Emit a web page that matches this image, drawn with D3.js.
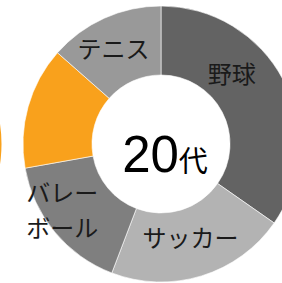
<!DOCTYPE html>
<html>
<head>
<meta charset="utf-8">
<script src="https://cdn.jsdelivr.net/npm/d3@7"></script>
<style>
  body { margin: 0; background: #fff; }
  svg { display: block; }
</style>
</head>
<body>
<script>
// slices, clockwise from 12 o'clock
var sports = ["野球", "サッカー", "バレーボール", "", "テニス"];
var shares = [34.7, 21.1, 16.4, 14.3, 13.5];
var colors = ["#636363", "#b3b3b3", "#7f7f7f", "#f9a11c", "#999999"];
// the neighbouring chart only shows a sliver of its orange slice
var neighbourShares = [40, 20, 40];
var neighbourColors = ["#ffffff", "#f9a11c", "#ffffff"];

var width = 282, height = 283;
var cx = 161, cy = 144, outerR = 138, innerR = 69;

var svg = d3.select("body").append("svg")
    .attr("width", width)
    .attr("height", height)

var pie = d3.pie().sort(null).value(function(d) { return d; });
var arc = d3.arc().innerRadius(innerR).outerRadius(outerR);

// neighbour donut, off to the left
var ng = svg.append("g").attr("transform", "translate(" + (1.5 - outerR) + "," + cy + ")");
ng.selectAll("path")
    .data(pie.startAngle(-Math.PI * 0.4667)(neighbourShares))
    .enter().append("path")
    .attr("d", arc)
    .attr("fill", function(d, i) { return neighbourColors[i]; });

var g = svg.append("g").attr("transform", "translate(" + cx + "," + cy + ")");
var slices = pie.startAngle(0)(shares);

g.selectAll("path.slice")
    .data(slices)
    .enter().append("path")
    .attr("class", "slice")
    .attr("d", arc)
    .attr("fill", function(d, i) { return colors[i]; })
    .attr("stroke", "#ffffff")
    .attr("stroke-width", 0.6);

// excel style labels: nudged off the centroid
var labelNudge = [[-21, -22], [-1, -4], [-19, 1], [0, 0], [-5, 0]];
var labelArc = d3.arc().innerRadius(innerR).outerRadius(outerR);

slices.forEach(function(d, i) {
    if (!sports[i]) return;
    var c = labelArc.centroid(d);
    var lines = sports[i] == "バレーボール" ? ["バレー", "ボール"] : [sports[i]];
    var t = g.append("text")
        .attr("x", c[0] + labelNudge[i][0])
        .attr("y", c[1] + labelNudge[i][1])
        .attr("text-anchor", "middle")
        .style("font-family", "'Noto Sans CJK JP'")
        .style("font-size", "24px")
        .style("fill", "#1a1a1a");
    lines.forEach(function(line, k) {
        t.append("tspan")
            .attr("x", c[0] + labelNudge[i][0])
            .attr("dy", lines.length == 1 ? "0.35em" : (k == 0 ? "-0.38em" : "1.45em"))
            .text(line);
    });
});

// centre title
var title = g.append("text")
    .attr("x", 4)
    .attr("y", 28)
    .attr("text-anchor", "middle")
    .style("fill", "#000")
title.append("tspan")
    .style("font-family", "'Liberation Sans', Arial")
    .style("font-size", "51px")
    .text("20");
title.append("tspan")
    .style("font-family", "'Noto Sans CJK JP'")
    .style("font-size", "29px")
    .text("代");
</script>
</body>
</html>
